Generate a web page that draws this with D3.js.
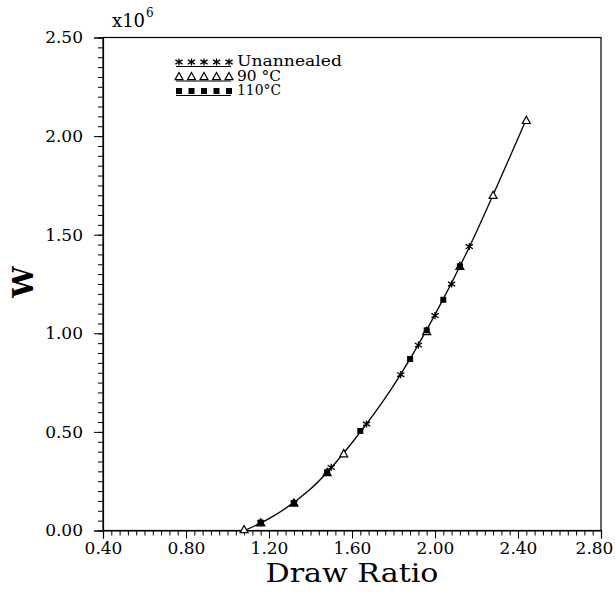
<!DOCTYPE html>
<html>
<head>
<meta charset="utf-8">
<script src="https://cdn.jsdelivr.net/npm/d3@7"></script>
<style>
  body { margin: 0; background: #fff; }
  text { font-family: "DejaVu Serif", "Liberation Serif", serif; fill: #000; }
</style>
</head>
<body>
<svg id="chart" width="615" height="594"></svg>
<script>
// values (W in units of 1e6)
const unannealedX = [1.16, 1.32, 1.50, 1.67, 1.835, 1.92, 2.00, 2.08, 2.165];
const unannealedW = [0.04, 0.14, 0.32, 0.54, 0.79, 0.94, 1.09, 1.25, 1.44];

const t90X = [1.08, 1.16, 1.32, 1.48, 1.56, 1.96, 2.12, 2.28, 2.44];
const t90W = [0.005, 0.04, 0.14, 0.295, 0.39, 1.01, 1.34, 1.70, 2.08];

const t110X = [1.16, 1.32, 1.48, 1.64, 1.88, 1.96, 2.04, 2.12];
const t110W = [0.04, 0.14, 0.295, 0.505, 0.87, 1.015, 1.17, 1.34];

// smooth fitted curve drawn through the data
const fitX = [1.08, 1.20, 1.40, 1.60, 1.80, 2.00, 2.20, 2.44];
const fitW = [0.0, 0.06, 0.21, 0.445, 0.735, 1.095, 1.515, 2.085];

const xTicks = [0.4, 0.8, 1.2, 1.6, 2.0, 2.4, 2.8];
const yTicks = [0, 0.5, 1.0, 1.5, 2.0, 2.5];
const legendLabels = ['Unannealed', '90 \u00b0C', '110\u00b0C'];

const svg = d3.select('#chart');
const plot = {left: 103, right: 601, top: 37.5, bottom: 530.5};
const serif = '"DejaVu Serif", "Liberation Serif", serif';

const x = d3.scaleLinear().domain([0.4, 2.8]).range([plot.left, plot.right]);
const y = d3.scaleLinear().domain([0, 2.5]).range([plot.bottom, plot.top]);

// frame
svg.append('rect')
  .attr('x', plot.left).attr('y', plot.top)
  .attr('width', plot.right - plot.left).attr('height', plot.bottom - plot.top)
  .attr('fill', 'none').attr('stroke', '#000').attr('stroke-width', 1.2);

// x axis: minor ticks every 0.04
const xAxisMinor = d3.axisBottom(x)
  .tickValues(d3.range(0, 61).map((i) => 0.4 + i * 0.04))
  .tickSize(5).tickFormat('');
svg.append('g').attr('transform', `translate(0,${plot.bottom})`).call(xAxisMinor)
  .call((g) => g.select('.domain').remove());

const xAxis = d3.axisBottom(x).tickValues(xTicks).tickSize(8).tickPadding(3)
  .tickFormat(d3.format('.2f'));
svg.append('g').attr('transform', `translate(0,${plot.bottom})`).call(xAxis)
  .call((g) => g.select('.domain').attr('stroke-width', 1.2))
  .call((g) => g.selectAll('text').attr('font-size', 17).attr('font-family', serif))
  .call((g) => g.selectAll('.tick:last-of-type text').attr('dx', -7));

// y axis: minor ticks every 0.05
const yAxisMinor = d3.axisLeft(y)
  .tickValues(d3.range(0, 51).map((i) => i * 0.05))
  .tickSize(5).tickFormat('');
svg.append('g').attr('transform', `translate(${plot.left},0)`).call(yAxisMinor)
  .call((g) => g.select('.domain').remove());

const yAxis = d3.axisLeft(y).tickValues(yTicks).tickSize(9).tickPadding(11)
  .tickFormat(d3.format('.2f'));
svg.append('g').attr('transform', `translate(${plot.left},0)`).call(yAxis)
  .call((g) => g.select('.domain').attr('stroke-width', 1.2))
  .call((g) => g.selectAll('text').attr('font-size', 17).attr('font-family', serif));

svg.selectAll('.tick line').attr('stroke', '#000');

// exponent
svg.append('text').attr('x', 112).attr('y', 27).attr('font-size', 18).text('x10');
svg.append('text').attr('x', 146).attr('y', 17).attr('font-size', 12).text('6');

// axis titles
svg.append('text')
  .attr('x', (plot.left + plot.right) / 2).attr('y', 582)
  .attr('text-anchor', 'middle').attr('font-size', 26)
  .attr('textLength', 173).attr('lengthAdjust', 'spacingAndGlyphs')
  .text('Draw Ratio');

svg.append('text')
  .attr('transform', 'translate(33,282) rotate(-90)')
  .attr('text-anchor', 'middle').attr('font-size', 28).attr('font-weight', 'bold')
  .text('W');

// curve
const fit = fitX.map((d, i) => [d, fitW[i]]);
const line = d3.line().x((d) => x(d[0])).y((d) => y(d[1])).curve(d3.curveNatural);
svg.append('path').datum(fit)
  .attr('d', line).attr('fill', 'none').attr('stroke', '#000').attr('stroke-width', 1.3);

// marker shapes
function star(g, cx, cy) {
  const r = 3.6;
  g.append('path')
    .attr('d', `M${cx},${cy - r}V${cy + r}M${cx - r},${cy - r * 0.6}L${cx + r},${cy + r * 0.6}` +
      `M${cx - r},${cy + r * 0.6}L${cx + r},${cy - r * 0.6}`)
    .attr('stroke', '#000').attr('stroke-width', 1.3).attr('fill', 'none');
}
function triangle(g, cx, cy) {
  const r = 4;
  g.append('path')
    .attr('d', `M${cx},${cy - r}L${cx + r},${cy + r * 0.8}L${cx - r},${cy + r * 0.8}Z`)
    .attr('stroke', '#000').attr('stroke-width', 1.2).attr('fill', '#fff');
}
function square(g, cx, cy) {
  const r = 3;
  g.append('rect')
    .attr('x', cx - r).attr('y', cy - r).attr('width', 2 * r).attr('height', 2 * r)
    .attr('fill', '#000');
}

const marks = svg.append('g');
t90X.forEach((d, i) => triangle(marks, x(d), y(t90W[i])));
t110X.forEach((d, i) => square(marks, x(d), y(t110W[i])));
unannealedX.forEach((d, i) => star(marks, x(d), y(unannealedW[i])));

// legend
const shapes = [star, triangle, square];
const legendWidths = [105, 44, 44];
const legend = svg.append('g');
legendLabels.forEach((label, i) => {
  const base = 66 + i * 14.5;
  legend.append('line')
    .attr('x1', 176).attr('x2', 231).attr('y1', base + 0.5).attr('y2', base + 0.5)
    .attr('stroke', '#000').attr('stroke-width', 1);
  d3.range(5).forEach((k) => shapes[i](legend, 179 + k * 12.5, base - 4));
  legend.append('text').attr('x', 237).attr('y', base).attr('font-size', 14)
    .attr('textLength', legendWidths[i]).attr('lengthAdjust', 'spacingAndGlyphs')
    .text(label);
});
</script>
</body>
</html>
